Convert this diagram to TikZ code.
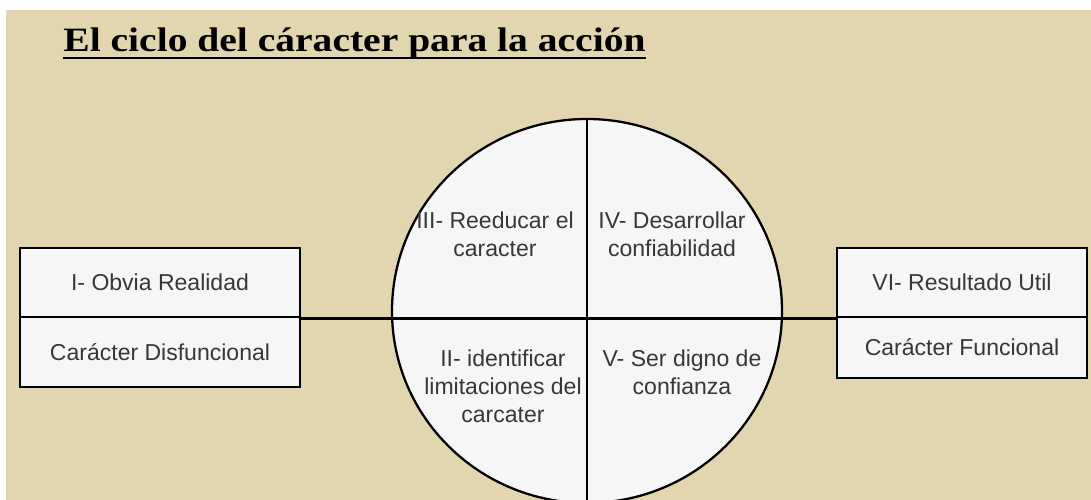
\documentclass[tikz,border=0pt]{standalone}
\usepackage{fontspec}
\setmainfont{Liberation Sans}
\newfontfamily\titlefont{Liberation Serif}
\usetikzlibrary{shapes.geometric}
\definecolor{beige}{RGB}{226,214,176}
\definecolor{boxFill}{RGB}{246,246,246}
\definecolor{ink}{RGB}{55,55,55}
\tikzstyle{half} = [rectangle, minimum height=1.39cm, text centered, draw=black, fill=boxFill, line width=1.3pt, text=ink, font=\fontsize{13.1}{15.9}\selectfont]
\tikzstyle{quad} = [align=center, inner sep=0pt, text=ink, font=\fontsize{13.1}{15.9}\selectfont]
\tikzstyle{line} = [line width=1.3pt]

\begin{document}
\begin{tikzpicture}
    \useasboundingbox (0,0) rectangle (21.82,10);
    \fill[beige] (0.12,0) rectangle (21.82,9.8);

    \node (title) [anchor=base west, inner sep=0pt, xscale=1.16, transform shape, font=\titlefont\bfseries\fontsize{19.4}{22}\selectfont] at (1.26,8.96) {El ciclo del cáracter para la acción};
    \draw[line width=1.5pt] ([yshift=-0.12cm]title.base west) -- ([yshift=-0.12cm]title.base east);

    \node (ciclo) [ellipse, draw=black, fill=boxFill, line width=1.3pt, minimum width=7.8cm, minimum height=7.68cm, inner sep=0pt] at (11.74,3.78) {};

    \node (obvia) [half, minimum width=5.6cm] at (3.2,4.35) {I- Obvia Realidad};
    \node (disFun) [half, minimum width=5.6cm, below of=obvia, node distance=1.39cm] {Carácter Disfuncional};

    \node (resul) [half, minimum width=5cm] at (19.24,4.35) {VI- Resultado Util};
    \node (funcional) [half, minimum width=5cm, minimum height=1.22cm, below of=resul, node distance=1.3cm] {Carácter Funcional};

    \draw[line] (obvia.south east) -- (resul.south west);
    \draw[line] (ciclo.north) -- (ciclo.south);

    \node (reeducar) [quad] at (9.9,5.32) {III- Reeducar el\\caracter};
    \node (desarrollar) [quad] at (13.44,5.32) {IV- Desarrollar\\confiabilidad};
    \node (identificar) [quad] at (10.06,2.27) {II- identificar\\limitaciones del\\carcater};
    \node (digno) [quad] at (13.64,2.55) {V- Ser digno de\\confianza};

\end{tikzpicture}
\end{document}
